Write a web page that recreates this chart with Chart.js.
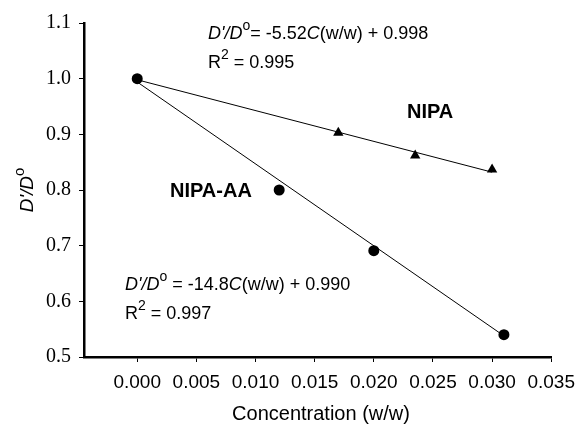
<!DOCTYPE html>
<html>
<head>
<meta charset="utf-8">
<script src="https://cdn.jsdelivr.net/npm/chart.js@4.4.0/dist/chart.umd.min.js"></script>
<style>
  html, body { margin: 0; padding: 0; background: #fff; }
  #wrap { width: 584px; height: 424px; }
</style>
</head>
<body>
<div id="wrap"><canvas id="chart" width="584" height="424"></canvas></div>
<script>
// measured points
const nipaX = [0.017, 0.0235, 0.030];
const nipaY = [0.903, 0.862, 0.837];
const aaX = [0.000, 0.012, 0.020, 0.031];
const aaY = [1.000, 0.800, 0.691, 0.540];

// fitted line end points
const nipaFitX = [0.000, 0.030];
const nipaFitY = [0.998, 0.832];
const aaFitX = [0.000, 0.031];
const aaFitY = [0.994, 0.538];

const xTicks = [0.000, 0.005, 0.010, 0.015, 0.020, 0.025, 0.030, 0.035];
const yTicks = [0.5, 0.6, 0.7, 0.8, 0.9, 1.0, 1.1];

const pts = (xs, ys) => xs.map((x, i) => ({ x: x, y: ys[i] }));

const SANS = "'Liberation Sans', Arial, sans-serif";
const SERIF = "'Liberation Serif', 'Times New Roman', serif";

// draw a run of text pieces, each with its own style, one after the other
function drawRich(ctx, x, y, parts, size) {
  let cx = x;
  parts.forEach((p) => {
    const s = p.sup ? Math.round(size * 0.8) : size;
    const style = (p.italic ? "italic " : "") + (p.bold ? "bold " : "");
    ctx.font = style + s + "px " + SANS;
    const dy = p.sup ? -size * 0.5 : 0;
    ctx.fillText(p.t, cx, y + dy);
    cx += ctx.measureText(p.t).width;
  });
}

const textPlugin = {
  id: "texts",
  afterDraw(chart) {
    const ctx = chart.ctx;
    ctx.save();
    ctx.fillStyle = "#000";
    ctx.textBaseline = "alphabetic";
    ctx.textAlign = "left";

    // equation for NIPA
    drawRich(ctx, 208, 39, [
      { t: "D'/D", italic: true },
      { t: "o", sup: true },
      { t: "= -5.52" },
      { t: "C", italic: true },
      { t: "(w/w) + 0.998" },
    ], 18);
    drawRich(ctx, 208, 68, [
      { t: "R" },
      { t: "2", sup: true },
      { t: " = 0.995" },
    ], 18);

    // equation for NIPA-AA
    drawRich(ctx, 125, 290, [
      { t: "D'/D", italic: true },
      { t: "o", sup: true },
      { t: " = -14.8" },
      { t: "C", italic: true },
      { t: "(w/w) + 0.990" },
    ], 18);
    drawRich(ctx, 125, 319, [
      { t: "R" },
      { t: "2", sup: true },
      { t: " = 0.997" },
    ], 18);

    // series names
    ctx.font = "bold 20px " + SANS;
    ctx.fillText("NIPA", 407, 118);
    ctx.fillText("NIPA-AA", 170, 197);

    // x axis title
    ctx.font = "20px " + SANS;
    ctx.textAlign = "center";
    ctx.fillText("Concentration (w/w)", 321, 420);

    // y axis title, rotated
    ctx.translate(33, 190);
    ctx.rotate(-Math.PI / 2);
    ctx.textAlign = "left";
    ctx.font = "italic 19px " + SANS;
    const w1 = ctx.measureText("D'/D").width;
    ctx.font = "15px " + SANS;
    const w2 = ctx.measureText("o").width;
    drawRich(ctx, -(w1 + w2) / 2, 0, [
      { t: "D'/D", italic: true },
      { t: "o", sup: true },
    ], 19);
    ctx.restore();
  },
};

new Chart(document.getElementById("chart"), {
  type: "scatter",
  data: {
    datasets: [
      {
        data: pts(aaX, aaY),
        pointStyle: "circle",
        pointRadius: 5.5,
        backgroundColor: "#000",
        borderColor: "#000",
        borderWidth: 0,
      },
      {
        data: pts(nipaX, nipaY),
        pointStyle: "triangle",
        pointRadius: 6,
        backgroundColor: "#000",
        borderColor: "#000",
        borderWidth: 0,
      },
      {
        data: pts(nipaFitX, nipaFitY),
        showLine: true,
        pointRadius: 0,
        borderColor: "#000",
        borderWidth: 1,
      },
      {
        data: pts(aaFitX, aaFitY),
        showLine: true,
        pointRadius: 0,
        borderColor: "#000",
        borderWidth: 1,
      },
    ],
  },
  options: {
    responsive: false,
    animation: false,
    layout: { padding: { top: 23, right: 27, left: 0, bottom: 0 } },
    plugins: {
      legend: { display: false },
      tooltip: { enabled: false },
    },
    scales: {
      x: {
        type: "linear",
        min: -0.0045,
        max: 0.035,
        afterFit(scale) { scale.height = 67; },
        afterBuildTicks(scale) {
          scale.ticks = xTicks.map((v) => ({ value: v }));
        },
        border: { display: true, color: "#000", width: 2.5 },
        grid: {
          drawOnChartArea: false,
          drawTicks: true,
          tickLength: 5,
          color: "#000",
          lineWidth: 1,
        },
        ticks: {
          padding: 9,
          maxRotation: 0,
          autoSkip: false,
          color: "#000",
          font: { size: 19, family: SANS },
          callback: (v) => Number(v).toFixed(3),
        },
      },
      y: {
        type: "linear",
        min: 0.5,
        max: 1.1,
        afterFit(scale) { scale.width = 84; },
        afterBuildTicks(scale) {
          scale.ticks = yTicks.map((v) => ({ value: v }));
        },
        border: { display: true, color: "#000", width: 2.5 },
        grid: {
          drawOnChartArea: false,
          drawTicks: true,
          tickLength: 5,
          color: "#000",
          lineWidth: 1,
        },
        ticks: {
          padding: 8,
          autoSkip: false,
          color: "#000",
          font: { size: 20, family: SERIF },
          callback: (v) => Number(v).toFixed(1),
        },
      },
    },
  },
  plugins: [textPlugin],
});
</script>
</body>
</html>
